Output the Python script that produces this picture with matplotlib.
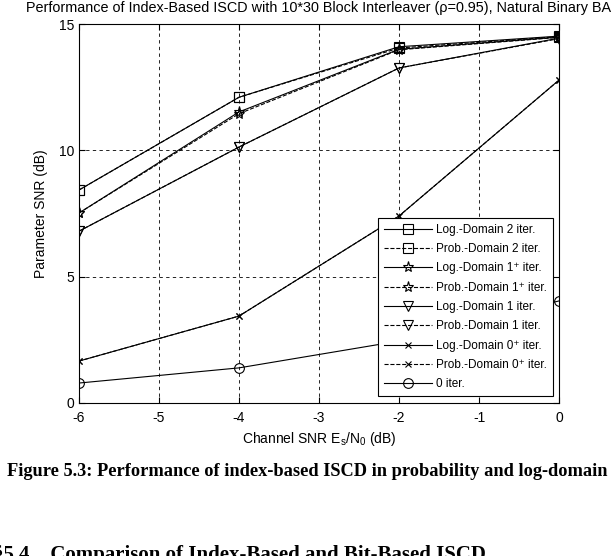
import matplotlib
matplotlib.use("Agg")
import matplotlib.pyplot as plt

plt.rcParams['font.family'] = ['Liberation Sans', 'DejaVu Sans']
plt.rcParams['mathtext.fontset'] = 'custom'
plt.rcParams['mathtext.rm'] = 'Liberation Sans'
plt.rcParams['mathtext.it'] = 'Liberation Sans'
plt.rcParams['axes.unicode_minus'] = False

# channel SNR points
snr = [-6, -4, -2, 0]

# parameter SNR (dB)
log_2 = [8.43, 12.1, 14.1, 14.52]
prob_2 = [8.43, 12.1, 14.05, 14.5]
log_1p = [7.52, 11.52, 14.0, 14.48]
prob_1p = [7.52, 11.45, 13.98, 14.47]
log_1 = [6.8, 10.13, 13.26, 14.44]
prob_1 = [6.8, 10.13, 13.26, 14.42]
log_0p = [1.66, 3.44, 7.4, 12.78]
prob_0p = [1.66, 3.44, 7.4, 12.78]
iter_0 = [0.79, 1.39, 2.45, 4.04]

series = [
    (log_2, 's', '-', "Log.-Domain 2 iter."),
    (prob_2, 's', '--', "Prob.-Domain 2 iter."),
    (log_1p, '*', '-', "Log.-Domain 1\u207a iter."),
    (prob_1p, '*', '--', "Prob.-Domain 1\u207a iter."),
    (log_1, 'v', '-', "Log.-Domain 1 iter."),
    (prob_1, 'v', '--', "Prob.-Domain 1 iter."),
    (log_0p, 'x', '-', "Log.-Domain 0\u207a iter."),
    (prob_0p, 'x', '--', "Prob.-Domain 0\u207a iter."),
    (iter_0, 'o', '-', "0 iter."),
]

fig = plt.figure(figsize=(6.15, 5.56), dpi=100)
ax = fig.add_axes([79 / 615, 1 - 403 / 556, 480 / 615, 379 / 556])

for ys, mk, ls, lab in series:
    ms = 4 if mk == 'x' else (8 if mk == '*' else 7)
    ax.plot(snr, ys, color='black', linestyle=ls, linewidth=0.8, marker=mk,
            markersize=ms, markerfacecolor='none', markeredgecolor='black',
            markeredgewidth=0.8, label=lab)

ax.set_xlim(-6, 0)
ax.set_ylim(0, 15)
ax.set_xticks([-6, -5, -4, -3, -2, -1, 0])
ax.set_yticks([0, 5, 10, 15])
ax.tick_params(direction='in', labelsize=10, length=4, top=True, right=True)
ax.tick_params(axis='x', pad=6)
ax.grid(True, color='black', linestyle=(0, (4, 4)), linewidth=0.6)
for s in ax.spines.values():
    s.set_linewidth(0.8)

ax.set_title("Performance of Index-Based ISCD with 10*30 Block Interleaver (\u03c1=0.95), Natural Binary BA",
             fontsize=10.4, pad=8.5)
ax.set_xlabel(r"Channel SNR E$_s$/N$_0$ (dB)", fontsize=10, labelpad=3)
ax.set_ylabel("Parameter SNR (dB)", fontsize=10, labelpad=8)

leg = ax.legend(loc='lower right', bbox_to_anchor=(0.9875, 0.018), borderaxespad=0,
                fontsize=8.5, handlelength=4.0, labelspacing=0.62, fancybox=False,
                edgecolor='black', framealpha=1, borderpad=0.5, handletextpad=0.4)
leg.get_frame().set_linewidth(0.8)

fig.text(0.5, 1 - 471 / 556, "Figure 5.3: Performance of index-based ISCD in probability and log-domain",
         ha='center', va='center', fontsize=13.2, fontweight='bold', family='Liberation Serif')
fig.text(-0.012, 1 - 545 / 556, "\u00a75.4    Comparison of Index-Based and Bit-Based ISCD",
         ha='left', va='top', fontsize=15, fontweight='bold', family='Liberation Serif')

fig.savefig("out.png", dpi=100)
